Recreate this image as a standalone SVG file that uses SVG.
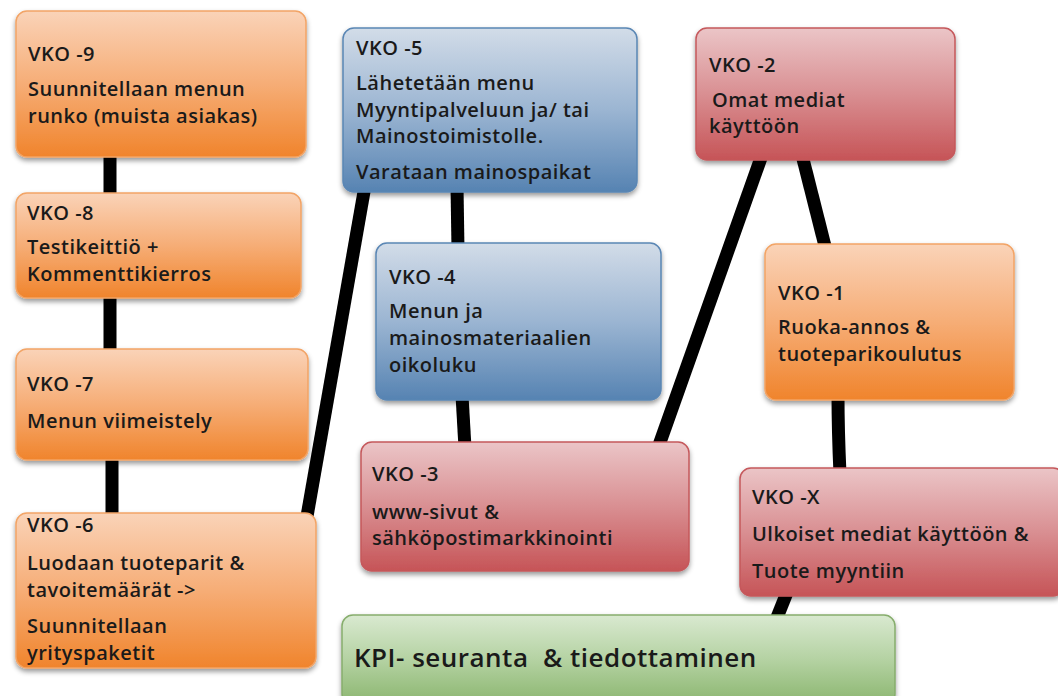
<svg xmlns="http://www.w3.org/2000/svg" width="1058" height="696" viewBox="0 0 1058 696">
  <defs>
    <linearGradient id="gOrange" x1="0" y1="0" x2="0" y2="1">
      <stop offset="0" stop-color="#fad3b8"/>
      <stop offset="0.5" stop-color="#f6ad76"/>
      <stop offset="1" stop-color="#f0842c"/>
    </linearGradient>
    <linearGradient id="gBlue" x1="0" y1="0" x2="0" y2="1">
      <stop offset="0" stop-color="#d2dce8"/>
      <stop offset="0.5" stop-color="#9bb5d2"/>
      <stop offset="1" stop-color="#5683b2"/>
    </linearGradient>
    <linearGradient id="gRed" x1="0" y1="0" x2="0" y2="1">
      <stop offset="0" stop-color="#ebc5c7"/>
      <stop offset="0.5" stop-color="#d98f92"/>
      <stop offset="1" stop-color="#c65457"/>
    </linearGradient>
    <linearGradient id="gGreen" x1="0" y1="0" x2="0" y2="1">
      <stop offset="0" stop-color="#d9e9d0"/>
      <stop offset="0.5" stop-color="#b4d2a2"/>
      <stop offset="1" stop-color="#8ab56e"/>
    </linearGradient>
    <filter id="shadow" x="-10%" y="-10%" width="120%" height="130%">
      <feDropShadow dx="0" dy="3" stdDeviation="2.5" flood-color="#000" flood-opacity="0.4"/>
    </filter>
  </defs>
  <style>
    .box { filter: url(#shadow); stroke-width: 1.5; }
    .orange { fill: url(#gOrange); stroke: #f2a466; }
    .blue { fill: url(#gBlue); stroke: #5a86b4; }
    .red { fill: url(#gRed); stroke: #c5585b; }
    .green { fill: url(#gGreen); stroke: #86ad6c; }
    text { font-family: "Open Sans", "Noto Sans", "DejaVu Sans", sans-serif; font-size: 20px; font-weight: 600; letter-spacing: 0.5px; fill: #1a1a1a; white-space: pre; }
    .kpi { font-size: 26px; }
    .link { stroke: #000; stroke-width: 13; fill: none; }
  </style>

  <!-- connectors (drawn first so the boxes sit on top) -->
  <g id="connectors">
    <line class="link" x1="110" y1="150" x2="110" y2="200"/>
    <line class="link" x1="110" y1="290" x2="110" y2="355"/>
    <line class="link" x1="112" y1="455" x2="112" y2="520"/>
    <line class="link" x1="306" y1="522" x2="365" y2="186"/>
    <line class="link" x1="457" y1="186" x2="458" y2="250"/>
    <line class="link" x1="462" y1="395" x2="465" y2="448"/>
    <line class="link" x1="658" y1="448" x2="762" y2="155"/>
    <line class="link" x1="802" y1="155" x2="826" y2="250"/>
    <path class="link" d="M838 395 Q838 430 840 474"/>
    <line class="link" x1="788" y1="590" x2="776" y2="620"/>
  </g>

  <g id="vko-9">
    <rect class="box orange" x="16" y="11" width="290" height="146" rx="11"/>
    <text x="28" y="61">VKO -9</text>
    <text x="28" y="96">Suunnitellaan menun</text>
    <text x="28" y="123">runko (muista asiakas)</text>
  </g>

  <g id="vko-8">
    <rect class="box orange" x="16" y="193" width="285" height="105" rx="11"/>
    <text x="27" y="220">VKO -8</text>
    <text x="27" y="254">Testikeittiö +</text>
    <text x="27" y="281">Kommenttikierros</text>
  </g>

  <g id="vko-7">
    <rect class="box orange" x="16" y="349" width="292" height="111" rx="11"/>
    <text x="27" y="391">VKO -7</text>
    <text x="27" y="428">Menun viimeistely</text>
  </g>

  <g id="vko-6">
    <rect class="box orange" x="16" y="513" width="300" height="155" rx="11"/>
    <text x="27" y="532">VKO -6</text>
    <text x="27" y="570">Luodaan tuoteparit &amp;</text>
    <text x="27" y="597">tavoitemäärät -&gt;</text>
    <text x="27" y="633">Suunnitellaan</text>
    <text x="27" y="660">yrityspaketit</text>
  </g>

  <g id="vko-5">
    <rect class="box blue" x="343" y="28" width="294" height="164" rx="11"/>
    <text x="356" y="55">VKO -5</text>
    <text x="356" y="90">Lähetetään menu</text>
    <text x="356" y="117">Myyntipalveluun ja/ tai</text>
    <text x="356" y="143">Mainostoimistolle.</text>
    <text x="356" y="179">Varataan mainospaikat</text>
  </g>

  <g id="vko-4">
    <rect class="box blue" x="376" y="243" width="285" height="157" rx="11"/>
    <text x="389" y="284">VKO -4</text>
    <text x="389" y="318">Menun ja</text>
    <text x="389" y="345">mainosmateriaalien</text>
    <text x="389" y="372">oikoluku</text>
  </g>

  <g id="vko-3">
    <rect class="box red" x="361" y="442" width="328" height="129" rx="11"/>
    <text x="372" y="481">VKO -3</text>
    <text x="372" y="519">www-sivut &amp;</text>
    <text x="372" y="545">sähköpostimarkkinointi</text>
  </g>

  <g id="vko-2">
    <rect class="box red" x="696" y="28" width="259" height="132" rx="11"/>
    <text x="709" y="72">VKO -2</text>
    <text x="712" y="107">Omat mediat</text>
    <text x="709" y="133">käyttöön</text>
  </g>

  <g id="vko-1">
    <rect class="box orange" x="765" y="244" width="249" height="156" rx="11"/>
    <text x="778" y="300">VKO -1</text>
    <text x="778" y="334">Ruoka-annos &amp;</text>
    <text x="778" y="361">tuoteparikoulutus</text>
  </g>

  <g id="vko-x">
    <rect class="box red" x="740" y="468" width="324" height="128" rx="11"/>
    <text x="752" y="504">VKO -X</text>
    <text x="752" y="541">Ulkoiset mediat käyttöön &amp;</text>
    <text x="752" y="578">Tuote myyntiin</text>
  </g>

  <g id="kpi">
    <rect class="box green" x="342" y="615" width="553" height="90" rx="11"/>
    <text class="kpi" x="354" y="667">KPI- seuranta  &amp; tiedottaminen</text>
  </g>
</svg>
